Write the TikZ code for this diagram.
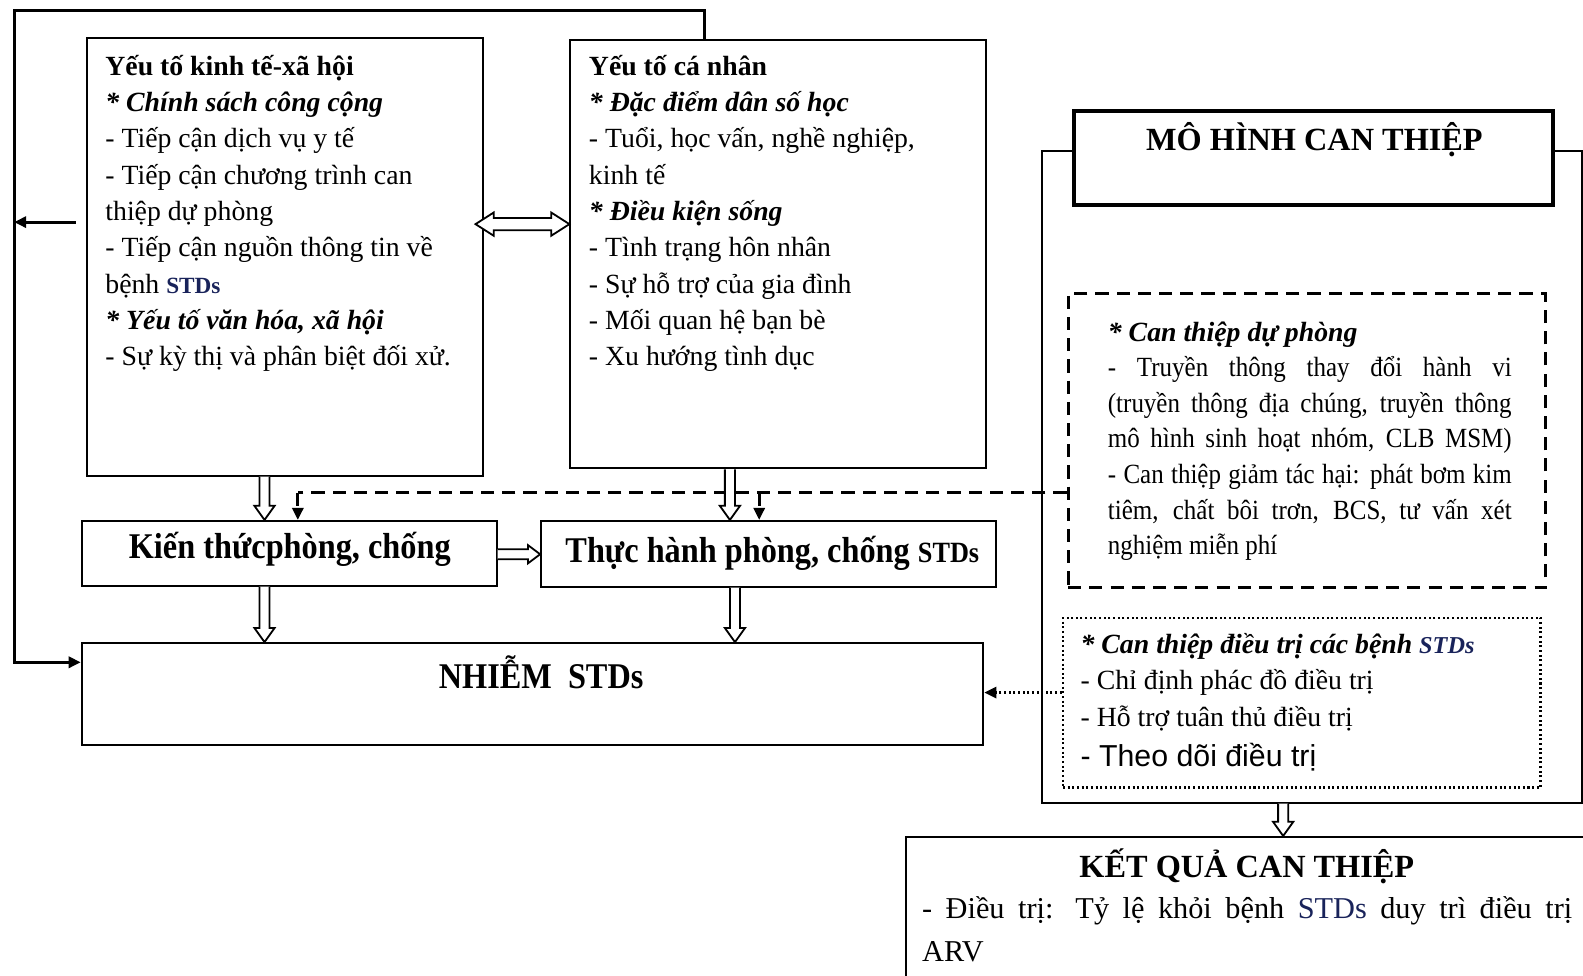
\documentclass[tikz,border=0pt]{standalone}
\usepackage{fontspec}
\setmainfont{Liberation Serif}
\newfontfamily\sansf{Liberation Sans}
\usetikzlibrary{calc,fit,arrows.meta}
\definecolor{navy}{RGB}{25,35,90}
\newcommand\hollowdown[2]{\draw[hollow] let \p1=#1, \p2=#2 in
  (\x1-2.5pt,\y1) -- (\x1-2.5pt,\y2+7pt) -- (\x1-5pt,\y2+7pt) -- (\x1,\y2) -- (\x1+5pt,\y2+7pt) -- (\x1+2.5pt,\y2+7pt) -- (\x1+2.5pt,\y1);}
\newcommand\hollowright[2]{\draw[hollow] let \p1=#1, \p2=#2 in
  (\x1,\y1+2.5pt) -- (\x2-6pt,\y1+2.5pt) -- (\x2-6pt,\y1+4.5pt) -- (\x2,\y1) -- (\x2-6pt,\y1-4.5pt) -- (\x2-6pt,\y1-2.5pt) -- (\x1,\y1-2.5pt);}
\newcommand\hollowboth[2]{\draw[hollow] let \p1=#1, \p2=#2 in
  (\x1,\y1) -- (\x1+9pt,\y1+5.75pt) -- (\x1+9pt,\y1+3pt) -- (\x2-9pt,\y1+3pt) -- (\x2-9pt,\y1+5.75pt) -- (\x2,\y1) -- (\x2-9pt,\y1-5.75pt) -- (\x2-9pt,\y1-3pt) -- (\x1+9pt,\y1-3pt) -- (\x1+9pt,\y1-5.75pt) -- cycle;}
\newcommand\cond[1]{\scalebox{0.9}[1]{\makebox[222.2pt][s]{#1}}}
\newcommand\tall[1]{\scalebox{1}[1.12]{#1}}
\begin{document}
\begin{tikzpicture}[x=0.5pt,y=-0.5pt,
  box/.style={draw, line width=1pt, inner sep=0pt},
  txt/.style={anchor=north west, inner sep=0pt, align=left, font=\fontsize{13.75}{18}\selectfont},
  lbl/.style={inner sep=0pt, font=\fontsize{16}{19}\selectfont\bfseries},
  fb/.style={line width=1.5pt},
  tip/.style={-{Triangle[length=6pt,width=5.5pt]}},
  dsh/.style={line width=1.5pt, dash pattern=on 6.5pt off 4pt},
  dotl/.style={line width=1.3pt, dash pattern=on 1pt off 1.3pt},
  hollow/.style={draw, line width=0.9pt, fill=white, line join=miter}]
\path[use as bounding box, fill=white] (0,0) rectangle (1568,966);
\clip (0,0) rectangle (1568,966);

% boxes
\node[box, fit={(86,38)(478,471)}] (b1) {};
\node[box, fit={(565,40)(977,464)}] (b2) {};
\node[box, fit={(81,516)(492,580)}] (b3) {};
\node[box, fit={(536,516)(987,581)}] (b4) {};
\node[box, fit={(81,637)(974,738)}] (b5) {};
\node[box, fit={(1032,150)(1567,795)}] (outer) {};
\node[box, fit={(1064,110)(1538,203)}, line width=2pt, fill=white] (title) {};
\node[box, fit={(1058,291)(1531,582)}, dsh] (dbox) {};
\node[box, fit={(1053,612)(1526,780)}, dotl] (tbox) {};
\node[box, fit={(897,829)(1580,990)}] (res) {};

% texts
\node[txt] (t1) at (104,54) {\textbf{Yếu tố kinh tế-xã hội}\\ \textbf{\textit{* Chính sách công cộng}}\\ - Tiếp cận dịch vụ y tế\\ - Tiếp cận chương trình can\\ thiệp dự phòng\\ - Tiếp cận nguồn thông tin về\\ bệnh {\color{navy}\bfseries\fontsize{11.5}{18}\selectfont STDs}\\ \textbf{\textit{* Yếu tố văn hóa, xã hội}}\\ - Sự kỳ thị và phân biệt đối xử.};
\node[txt] (t2) at (583,54) {\textbf{Yếu tố cá nhân}\\ \textbf{\textit{* Đặc điểm dân số học}}\\ - Tuổi, học vấn, nghề nghiệp,\\ kinh tế\\ \textbf{\textit{* Điều kiện sống}}\\ - Tình trạng hôn nhân\\ - Sự hỗ trợ của gia đình\\ - Mối quan hệ bạn bè\\ - Xu hướng tình dục};
\node[lbl] (l3) at (287,544) {\tall{Kiến thứcphòng, chống}};
\node[lbl] (l4) at (765,548) {\tall{Thực hành phòng, chống {\fontsize{13}{19}\selectfont STDs}}};
\node[lbl] (l5) at (536,666) {\tall{NHIỄM\ \ STDs}};
\node[lbl] (l6) at (1302,138) {MÔ HÌNH CAN THIỆP};
\node[lbl] (l7) at (1235,858) {KẾT QUẢ CAN THIỆP};
\node[txt, font=\fontsize{13.75}{17.65}\selectfont] (t3) at (1097,318) {\textbf{\textit{* Can thiệp dự phòng}}\\ \cond{- Truyền thông thay đổi hành vi}\\ \cond{(truyền thông địa chúng, truyền thông}\\ \cond{mô hình sinh hoạt nhóm, CLB MSM)}\\ \cond{- Can thiệp giảm tác hại: phát bơm kim}\\ \cond{tiêm, chất bôi trơn, BCS, tư vấn xét}\\ \scalebox{0.9}[1]{nghiệm miễn phí}};
\node[txt] (t4) at (1070,627) {{\bfseries\itshape * Can thiệp điều trị các bệnh {\color{navy}\fontsize{12}{18}\selectfont STDs}}\\ - Chỉ định phác đồ điều trị\\ - Hỗ trợ tuân thủ điều trị\\[1.8pt] {\sansf\fontsize{15}{18}\selectfont - Theo dõi điều trị}};
\node[txt, font=\fontsize{15}{21}\selectfont] (t5) at (913,888) {\makebox[322pt][s]{- Điều trị: Tỷ lệ khỏi bệnh {\color{navy}STDs} duy trì điều trị}\\ ARV};

% helper coordinates
\coordinate (TL) at (14,10);
\coordinate (BL) at (14,656);
\coordinate (fbx) at (698,0);
\coordinate (fbin) at (75,220);
\coordinate (dx1) at (295,488);
\coordinate (dx2) at (752,488);
\coordinate (dy) at (0,686);
\coordinate (ax1) at (262,0);
\coordinate (ax2) at (723,0);
\coordinate (ax3) at (728,0);
\coordinate (ax4) at (1271,0);
\coordinate (ay1) at (0,549);
\coordinate (ay2) at (0,222);

% feedback loop
\draw[fb, tip] (b2.north -| fbx) |- (TL) -- (BL) -- (BL -| b5.west);
\draw[fb, tip] (fbin) -- (fbin -| TL);

% dashed connectors
\draw[dsh] (dbox.west |- dx1) -- (dx1);
\draw[dsh, tip] (dx1) -- (dx1 |- b3.north);
\draw[dsh, tip] (dx2) -- (dx2 |- b4.north);

% dotted connector
\draw[dotl, tip] (tbox.west |- dy) -- (b5.east |- dy);

% hollow arrows
\hollowdown{(b1.south -| ax1)}{(b3.north -| ax1)}
\hollowdown{(b2.south -| ax2)}{(b4.north -| ax2)}
\hollowdown{(b3.south -| ax1)}{(b5.north -| ax1)}
\hollowdown{(b4.south -| ax3)}{(b5.north -| ax3)}
\hollowdown{(outer.south -| ax4)}{(res.north -| ax4)}
\hollowright{(b3.east |- ay1)}{(b4.west |- ay1)}
\hollowboth{($(b1.east |- ay2)+(-8,0)$)}{(b2.west |- ay2)}
\end{tikzpicture}
\end{document}
